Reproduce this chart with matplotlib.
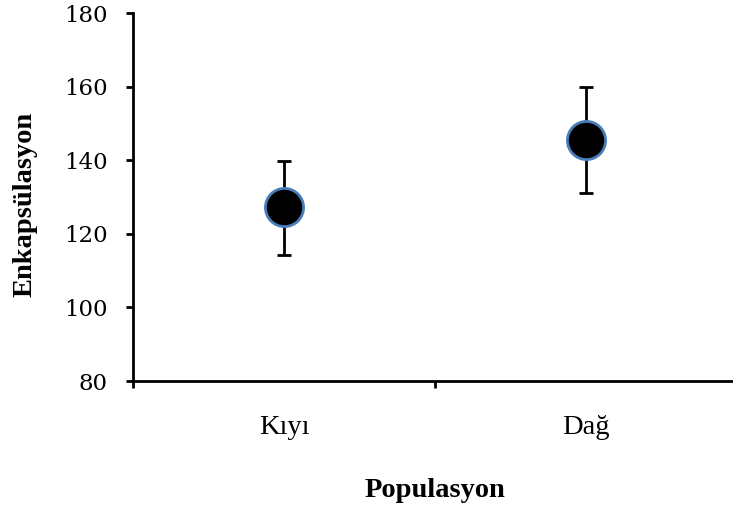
import matplotlib
matplotlib.use("Agg")
import matplotlib.pyplot as plt

# data
populations = ["Kıyı", "Dağ"]
means = [127.3, 145.5]
upper = [139.8, 159.9]
lower = [114.2, 131.1]

err_low = [m - lo for m, lo in zip(means, lower)]
err_high = [hi - m for m, hi in zip(means, upper)]
xpos = [i + 0.5 for i in range(len(populations))]

W, H = 733, 515
fig = plt.figure(figsize=(W / 100, H / 100), dpi=100)
# the x axis runs a little past the right edge of the picture
ax = fig.add_axes([133 / W, 134 / H, 604 / W, 368 / H])

ax.errorbar(xpos, means, yerr=[err_low, err_high], fmt="none",
            ecolor="black", elinewidth=2, capsize=5, capthick=2, zorder=2)
ax.plot(xpos, means, "o", color="black", markersize=27.5,
        markeredgecolor="#4a7ebb", markeredgewidth=2, zorder=3)

ax.set_xlim(0, 2)
ax.set_ylim(80, 180)
ax.set_yticks(range(80, 181, 20))
ax.set_xticks([0, 1, 2])
ax.set_xticklabels([])

# category names, baseline a fixed distance under the axis
for x, name in zip(xpos, populations):
    ax.annotate(name, xy=(x, 0), xycoords=("data", "axes fraction"),
                xytext=(0, -53), textcoords="offset pixels",
                ha="center", va="baseline", fontsize=20.5,
                family="Liberation Serif")

for lbl in ax.get_yticklabels():
    lbl.set_family("DejaVu Serif")
    lbl.set_fontsize(16.5)

ax.tick_params(axis="both", direction="out", width=2, length=5)
ax.tick_params(axis="y", pad=13)
for s in ["top", "right"]:
    ax.spines[s].set_visible(False)
for s in ["left", "bottom"]:
    ax.spines[s].set_linewidth(2)

fig.text(25 / W, 1 - 204 / H, "Enkapsülasyon", rotation=90, ha="center",
         va="center", fontsize=20.5, fontweight="bold", family="Liberation Serif")
fig.text(435 / W, 18 / H, "Populasyon", ha="center", va="baseline",
         fontsize=20.5, fontweight="bold", family="Liberation Serif")

fig.savefig("out.png", dpi=100)
